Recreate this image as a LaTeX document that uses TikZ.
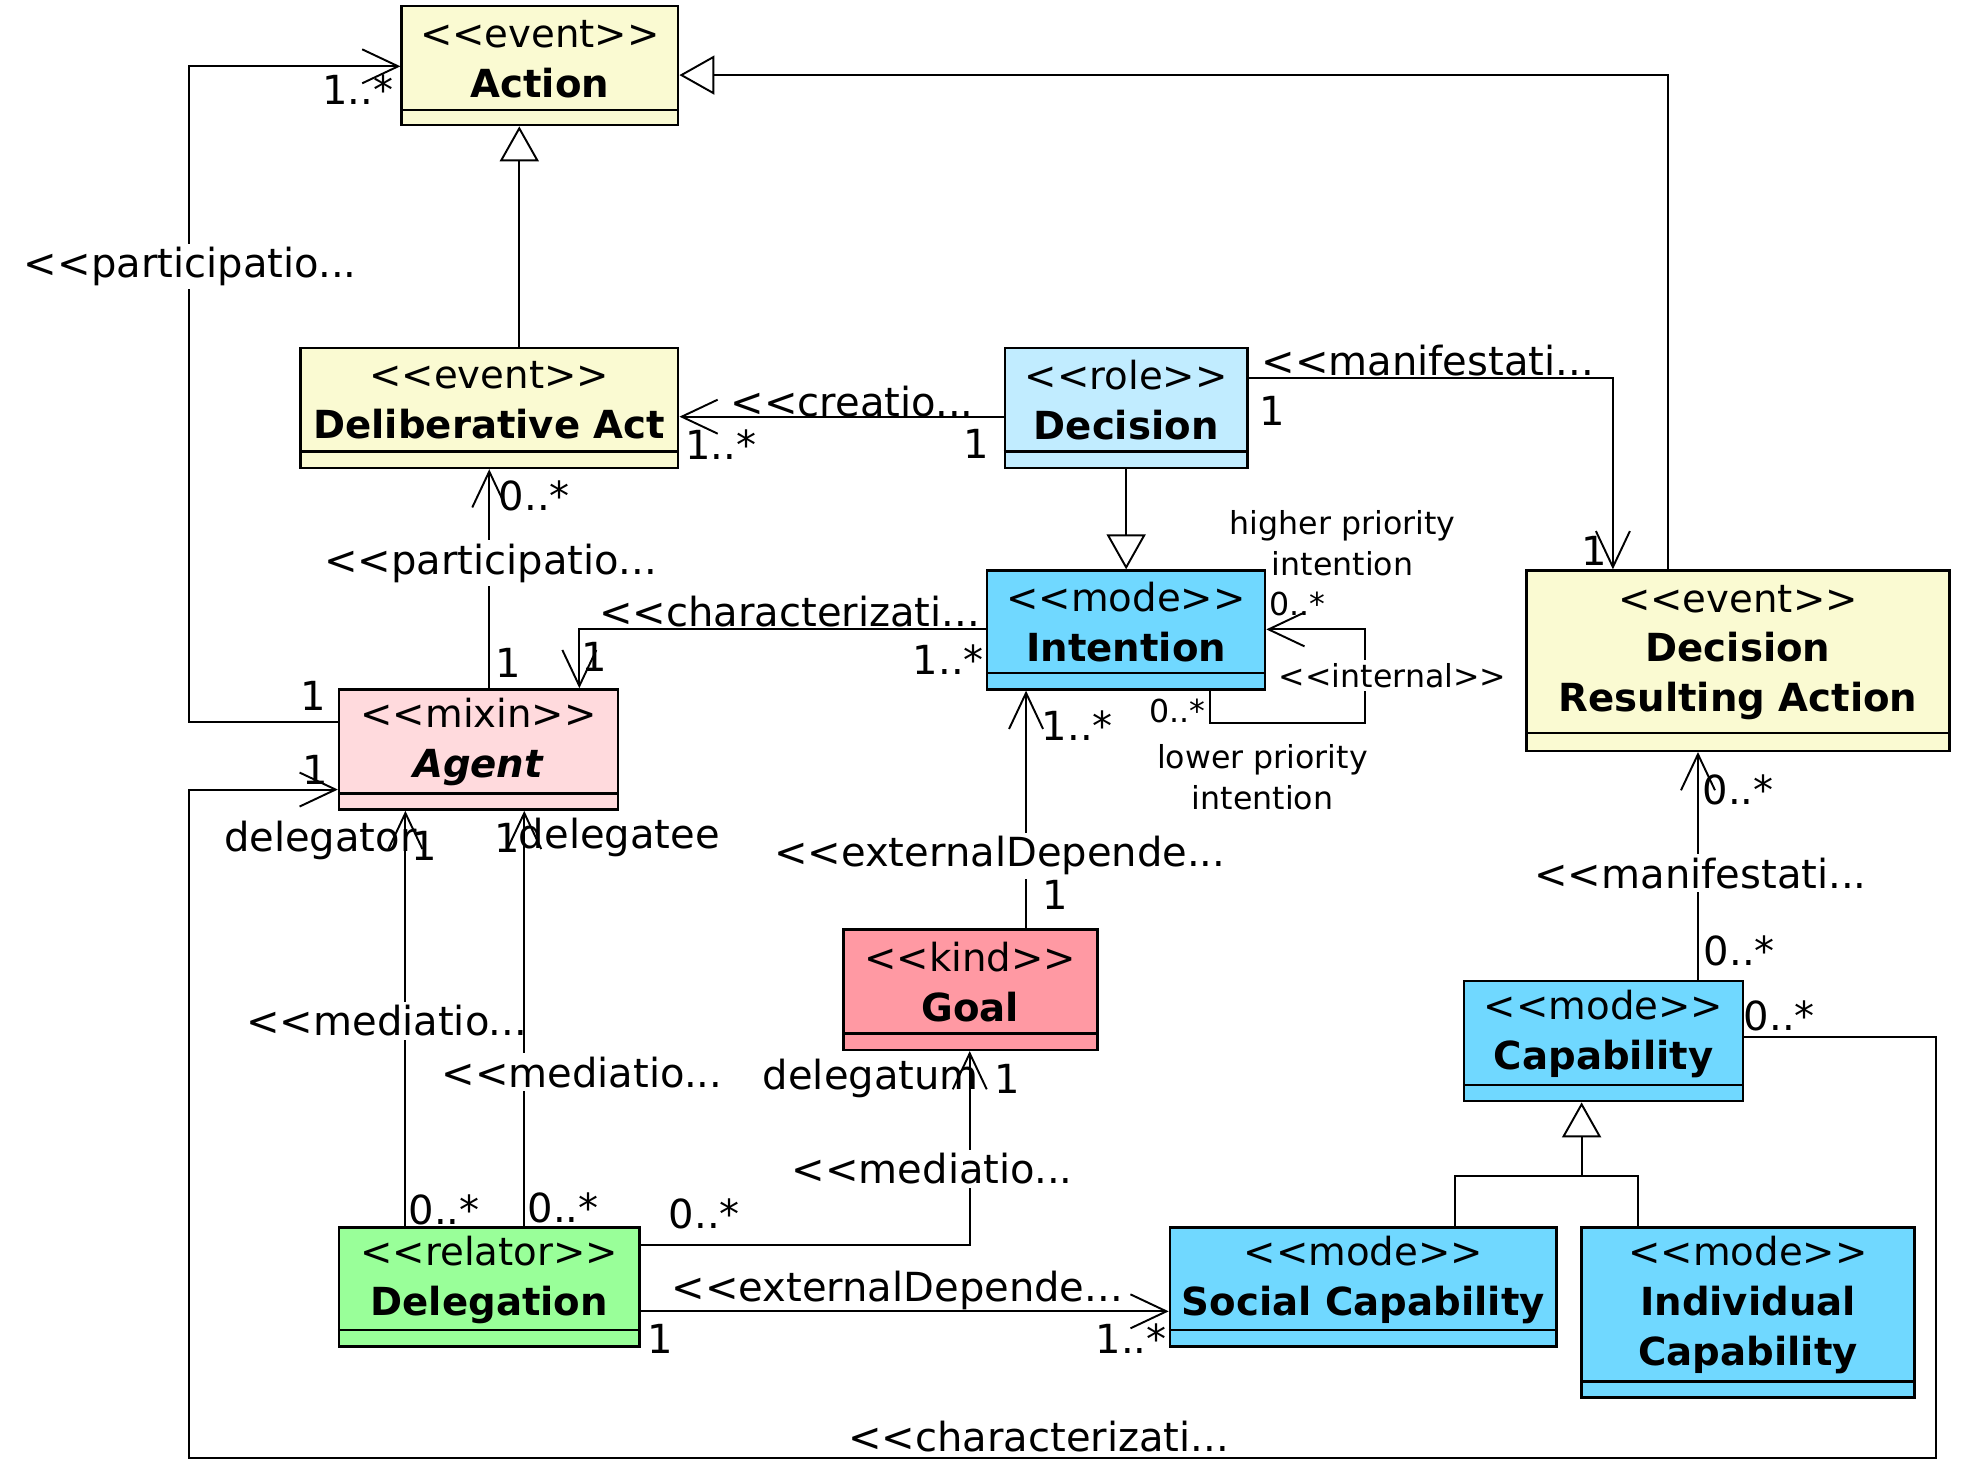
\documentclass[tikz,border=0pt]{standalone}
\usepackage{fontspec}
\setmainfont{DejaVu Sans}
\usepackage{xcolor}
\usepackage{tikz}
\usetikzlibrary{arrows.meta}

\definecolor{ereignis}{RGB}{250,250,210}
\definecolor{rolle}{RGB}{193,236,255}
\definecolor{modus}{RGB}{112,216,255}
\definecolor{mixin}{RGB}{255,218,221}
\definecolor{art}{RGB}{255,153,163}
\definecolor{relator}{RGB}{153,255,153}

\newcommand{\stereo}[1]{<\kern0pt<#1>\kern0pt>}
\newcommand{\stereoauf}[1]{<\kern0pt<#1}
\newcommand{\pxl}{0.012513cm}

\begin{document}
\begin{tikzpicture}[x=0.012513cm, y=-0.012513cm,
    klasse/.style={draw, line width=0.7pt, inner sep=0pt},
    trenn/.style={line width=0.7pt},
    titel/.style={align=center, inner sep=0pt, font=\fontsize{11}{14.2}\selectfont},
    assoc/.style={line width=0.55pt, -{Straight Barb[length=3.6mm, width=3.4mm]}},
    gen/.style={line width=0.55pt, -{Triangle[open, length=3.5mm, width=3.9mm]}},
    linie/.style={line width=0.55pt},
    lab/.style={font=\fontsize{11.4}{13}\selectfont, inner sep=1pt},
    labw/.style={lab, fill=white},
    klein/.style={font=\fontsize{9}{11.7}\selectfont, inner sep=1pt, align=center}]

    \fill[white] (0,0) rectangle (1568,1175);
    \useasboundingbox (0,0) rectangle (1568,1175);

    % --- Klassen ---
    \node[klasse, fill=ereignis, minimum width=221*\pxl, minimum height=95*\pxl] (act) at (431.5,52.5) {};
    \draw[trenn] ([yshift=13*\pxl]act.south west) -- ([yshift=13*\pxl]act.south east);
    \node[titel] (act-t) at (431.5,47) {\stereo{event}\\\textbf{Action}};

    \node[klasse, fill=ereignis, minimum width=302*\pxl, minimum height=96*\pxl] (delib) at (391,326) {};
    \draw[trenn] ([yshift=14*\pxl]delib.south west) -- ([yshift=14*\pxl]delib.south east);
    \node[titel] (delib-t) at (391,320) {\stereo{event}\\\textbf{Deliberative Act}};

    \node[klasse, fill=rolle, minimum width=194*\pxl, minimum height=96*\pxl] (dec) at (900,326) {};
    \draw[trenn] ([yshift=14*\pxl]dec.south west) -- ([yshift=14*\pxl]dec.south east);
    \node[titel] (dec-t) at (900,320) {\stereo{role}\\\textbf{Decision}};

    \node[klasse, fill=modus, minimum width=222*\pxl, minimum height=95*\pxl] (intent) at (900,503.5) {};
    \draw[trenn] ([yshift=14*\pxl]intent.south west) -- ([yshift=14*\pxl]intent.south east);
    \node[titel] (intent-t) at (900,497.5) {\stereo{mode}\\\textbf{Intention}};

    \node[klasse, fill=ereignis, minimum width=338*\pxl, minimum height=144*\pxl] (dra) at (1389,528) {};
    \draw[trenn] ([yshift=15*\pxl]dra.south west) -- ([yshift=15*\pxl]dra.south east);
    \node[titel] (dra-t) at (1389,521.5) {\stereo{event}\\\textbf{Decision}\\\textbf{Resulting Action}};

    \node[klasse, fill=mixin, minimum width=223*\pxl, minimum height=96*\pxl] (agent) at (382.5,599) {};
    \draw[trenn] ([yshift=14*\pxl]agent.south west) -- ([yshift=14*\pxl]agent.south east);
    \node[titel] (agent-t) at (382.5,593) {\stereo{mixin}\\\textbf{\textit{Agent}}};

    \node[klasse, fill=art, minimum width=203*\pxl, minimum height=96*\pxl] (goal) at (775.5,791) {};
    \draw[trenn] ([yshift=14*\pxl]goal.south west) -- ([yshift=14*\pxl]goal.south east);
    \node[titel] (goal-t) at (775.5,785) {\stereo{kind}\\\textbf{Goal}};

    \node[klasse, fill=modus, minimum width=223*\pxl, minimum height=96*\pxl] (cap) at (1281.5,832) {};
    \draw[trenn] ([yshift=14*\pxl]cap.south west) -- ([yshift=14*\pxl]cap.south east);
    \node[titel] (cap-t) at (1281.5,826) {\stereo{mode}\\\textbf{Capability}};

    \node[klasse, fill=relator, minimum width=240*\pxl, minimum height=95*\pxl] (deleg) at (391,1028.5) {};
    \draw[trenn] ([yshift=14*\pxl]deleg.south west) -- ([yshift=14*\pxl]deleg.south east);
    \node[titel] (deleg-t) at (391,1023) {\stereo{relator}\\\textbf{Delegation}};

    \node[klasse, fill=modus, minimum width=309*\pxl, minimum height=95*\pxl] (soc) at (1089.5,1028.5) {};
    \draw[trenn] ([yshift=14*\pxl]soc.south west) -- ([yshift=14*\pxl]soc.south east);
    \node[titel] (soc-t) at (1089.5,1023) {\stereo{mode}\\\textbf{Social Capability}};

    \node[klasse, fill=modus, minimum width=266*\pxl, minimum height=136*\pxl] (ind) at (1397,1049) {};
    \draw[trenn] ([yshift=14*\pxl]ind.south west) -- ([yshift=14*\pxl]ind.south east);
    \node[titel] (ind-t) at (1397,1043) {\stereo{mode}\\\textbf{Individual}\\\textbf{Capability}};

    % --- Generalisierungen ---
    \draw[gen] (delib.north -| 415,0) -- (act.south -| 415,0);
    \draw[gen] (dra.north -| 1333,0) |- (act.east |- 0,60);
    \draw[gen] (dec.south) -- (intent.north);
    \coordinate (gabel) at (1264,940);
    \draw[gen] (gabel) -- (cap.south -| gabel);
    \draw[linie] (soc.north -| 1163,0) |- (gabel) -| (ind.north -| 1309,0);

    % --- Assoziationen ---
    % participation Agent -> Action
    \draw[assoc] (agent.west |- 0,577) -| (151,53) -- (act.west |- 0,53);
    \node[labw] (p1-lab) at (152,213) {\stereoauf{participatio...}};
    \node[lab] (p1-m1) at (286,72) {1..*};
    \node[lab] (p1-m2) at (250,556) {1};

    % creation Decision -> Deliberative Act
    \draw[assoc] (dec.west |- 0,333) -- (delib.east |- 0,333);
    \node[lab] (cr-lab) at (681,321) {\stereoauf{creatio...}};
    \node[lab] (cr-m1) at (576,355) {1..*};
    \node[lab] (cr-m2) at (780,355) {1};

    % manifestation Decision -> Decision Resulting Action
    \draw[assoc] (dec.east |- 0,302) -| (dra.north -| 1289,0);
    \node[lab] (ma1-lab) at (1141,288) {\stereoauf{manifestati...}};
    \node[lab] (ma1-m1) at (1017,328) {1};
    \node[lab] (ma1-m2) at (1274,440) {1};

    % participation Agent -> Deliberative Act
    \draw[assoc] (agent.north -| 391,0) -- (delib.south -| 391,0);
    \node[labw] (p2-lab) at (392,450) {\stereoauf{participatio...}};
    \node[lab] (p2-m1) at (427,396) {0..*};
    \node[lab] (p2-m2) at (406,530) {1};

    % characterization Intention -> Agent
    \draw[assoc] (intent.west |- 0,503) -| (agent.north -| 463,0);
    \node[lab] (ch1-lab) at (631,489) {\stereoauf{characterizati...}};
    \node[lab] (ch1-m1) at (758,527) {1..*};
    \node[lab] (ch1-m2) at (475,525) {1};

    % internal (Intention selbst)
    \draw[assoc] (intent.south -| 967,0) |- (1091,578) |- (intent.east |- 0,503);
    \node[klein, fill=white] (in-lab) at (1113,540) {\stereo{internal}};
    \node[klein] (in-m1) at (1037,483) {0..*};
    \node[klein] (in-m2) at (941,568) {0..*};
    \node[klein] (in-r1) at (1073,434) {higher priority\\intention};
    \node[klein] (in-r2) at (1009,621) {lower priority\\intention};

    % externalDependence Goal -> Intention
    \draw[assoc] (goal.north -| 820,0) -- (intent.south -| 820,0);
    \node[labw] (ex1-lab) at (799,684) {\stereoauf{externalDepende...}};
    \node[lab] (ex1-m1) at (861,580) {1..*};
    \node[lab] (ex1-m2) at (843,715) {1};

    % manifestation Capability -> Decision Resulting Action
    \draw[assoc] (cap.north -| 1357,0) -- (dra.south -| 1357,0);
    \node[labw] (ma2-lab) at (1359,698) {\stereoauf{manifestati...}};
    \node[lab] (ma2-m1) at (1389,631) {0..*};
    \node[lab] (ma2-m2) at (1390,760) {0..*};

    % mediation Delegation -> Agent (delegator)
    \draw[assoc] (deleg.north -| 324,0) -- (agent.south -| 324,0);
    \node[labw] (me1-lab) at (309,816) {\stereoauf{mediatio...}};
    \node[lab] (me1-m1) at (355,967) {0..*};
    \node[lab] (me1-r) at (256,672) {delegator};
    \node[lab] (me1-m2) at (339,676) {1};

    % mediation Delegation -> Agent (delegatee)
    \draw[assoc] (deleg.north -| 419,0) -- (agent.south -| 419,0);
    \node[labw] (me2-lab) at (465,857) {\stereoauf{mediatio...}};
    \node[lab] (me2-m1) at (450,965) {0..*};
    \node[lab] (me2-m2) at (405,670) {1};
    \node[lab] (me2-r) at (495,669) {delegatee};

    % mediation Delegation -> Goal (delegatum)
    \draw[assoc] (deleg.east |- 0,995) -| (goal.south -| 775,0);
    \node[labw] (me3-lab) at (745,934) {\stereoauf{mediatio...}};
    \node[lab] (me3-m1) at (563,970) {0..*};
    \node[lab] (me3-r) at (696,862) {delegatum};
    \node[lab] (me3-m2) at (805,862) {1};

    % externalDependence Delegation -> Social Capability
    \draw[assoc] (deleg.east |- 0,1048) -- (soc.west |- 0,1048);
    \node[lab] (ex2-lab) at (717,1031) {\stereoauf{externalDepende...}};
    \node[lab] (ex2-m1) at (528,1070) {1};
    \node[lab] (ex2-m2) at (904,1070) {1..*};

    % characterization Capability -> Agent
    \draw[assoc] (cap.east |- 0,829) -| (1547,1165) -| (151,631) -- (agent.west |- 0,631);
    \node[lab] (ch2-lab) at (830,1148) {\stereoauf{characterizati...}};
    \node[lab] (ch2-m1) at (1422,812) {0..*};
    \node[lab] (ch2-m2) at (252,615) {1};

\end{tikzpicture}
\end{document}
